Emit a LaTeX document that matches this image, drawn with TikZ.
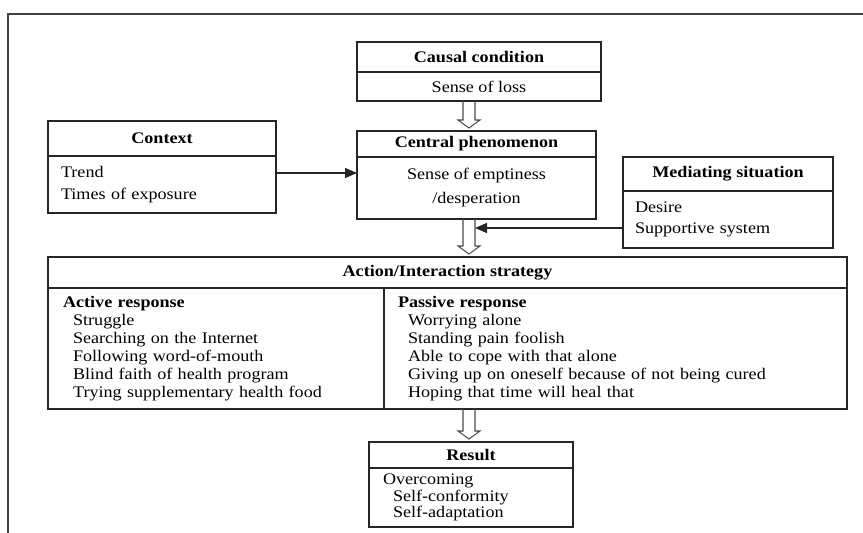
\documentclass[tikz,border=0pt]{standalone}
\usepackage{fontspec}
\setmainfont{Liberation Serif}[FakeStretch=1.12]
\usetikzlibrary{arrows.meta,positioning,calc}

\begin{document}
\begin{tikzpicture}[
    x=0.02cm, y=-0.02cm,
    every node/.style={font=\fontsize{9.2}{10.2}\selectfont},
    head/.style={rectangle, draw=black!85, line width=0.9pt, inner sep=0pt, outer sep=0pt, font=\fontsize{9.2}{11}\selectfont\bfseries},
    body/.style={rectangle, draw=black!85, line width=0.9pt, inner ysep=0pt, outer sep=0pt, align=left},
    arrow/.style={-{Triangle[length=0.24cm, width=0.2cm]}, line width=0.7pt, black!85},
    flow/.style={draw=black!70, line width=0.6pt}
]
\useasboundingbox (0,0) rectangle (863,533);

% page frame
\draw[black!75, line width=1pt] (8,533) -- (8,14) -- (863,14);

% Causal condition
\node[head, minimum width=4.88cm, minimum height=0.6cm] (cause) at (479,57) {Causal condition};
\node[body, below=0pt of cause, minimum width=4.88cm, minimum height=0.58cm, align=center] (causeb) {Sense of loss};

% Central phenomenon
\node[head, minimum width=4.78cm, minimum height=0.52cm] (centre) at (476.5,144) {Central phenomenon};
\node[body, below=0pt of centre, minimum width=4.78cm, minimum height=1.24cm, align=center,
      font=\fontsize{9.2}{13.7}\selectfont] (centreb) {Sense of emptiness\\/desperation};

% Context
\node[head, minimum width=4.56cm, minimum height=0.7cm] (context) at (162,138.5) {Context};
\node[body, below=0pt of context, minimum height=1.14cm, inner xsep=0.26cm, text width=4.04cm,
      font=\fontsize{9.2}{12.5}\selectfont] (contextb) {Trend\\Times of exposure};

% Mediating situation
\node[head, minimum width=4.2cm, minimum height=0.68cm] (mediate) at (728,174) {Mediating situation};
\node[body, below=0pt of mediate, minimum height=1.14cm, inner xsep=0.24cm, text width=3.72cm,
      font=\fontsize{9.2}{12}\selectfont] (mediateb) {Desire\\Supportive system};

% Action/Interaction strategy
\node[head, minimum width=15.98cm, minimum height=0.62cm] (acthead) at (447.5,272.5) {Action/Interaction strategy};
\node[body, anchor=north west, minimum height=2.42cm, inner xsep=0.3cm, text width=6.12cm] (actleft) at (acthead.south west)
    {{\bfseries Active response}\\
     \hspace*{0.2cm}Struggle\\
     \hspace*{0.2cm}Searching on the Internet\\
     \hspace*{0.2cm}Following word-of-mouth\\
     \hspace*{0.2cm}Blind faith of health program\\
     \hspace*{0.2cm}Trying supplementary health food};
\node[body, right=0pt of actleft, minimum height=2.42cm, inner xsep=0.28cm, text width=8.7cm] (actright)
    {{\bfseries Passive response}\\
     \hspace*{0.2cm}Worrying alone\\
     \hspace*{0.2cm}Standing pain foolish\\
     \hspace*{0.2cm}Able to cope with that alone\\
     \hspace*{0.2cm}Giving up on oneself because of not being cured\\
     \hspace*{0.2cm}Hoping that time will heal that};

% Result
\node[head, minimum width=4.08cm, minimum height=0.52cm] (reshead) at (471,455) {Result};
\node[body, below=0pt of reshead, minimum height=1.18cm, inner xsep=0.28cm, text width=3.52cm,
      font=\fontsize{9.2}{9.3}\selectfont] (resbody)
    {Overcoming\\
     \hspace*{0.2cm}Self-conformity\\
     \hspace*{0.2cm}Self-adaptation};

% hollow flow arrows down the middle
\coordinate (spine) at (469,0);
\foreach \from/\to in {causeb/centre, centreb/acthead, actright/reshead} {
    \draw[flow] ($(\from.south -| spine)+(-6,0)$) -- ($(\to.north -| spine)+(-6,-11)$)
        -- ($(\to.north -| spine)+(-11,-11)$) -- ($(\to.north -| spine)+(0,-3)$)
        -- ($(\to.north -| spine)+(11,-11)$) -- ($(\to.north -| spine)+(6,-11)$)
        -- ($(\from.south -| spine)+(6,0)$);
}

% side arrows
\coordinate (ctxlvl) at (0,173);
\coordinate (medlvl) at (475,228);
\draw[arrow] (contextb.east |- ctxlvl) -- (centreb.west |- ctxlvl);
\draw[arrow] (mediateb.west |- medlvl) -- (medlvl);
\end{tikzpicture}
\end{document}
